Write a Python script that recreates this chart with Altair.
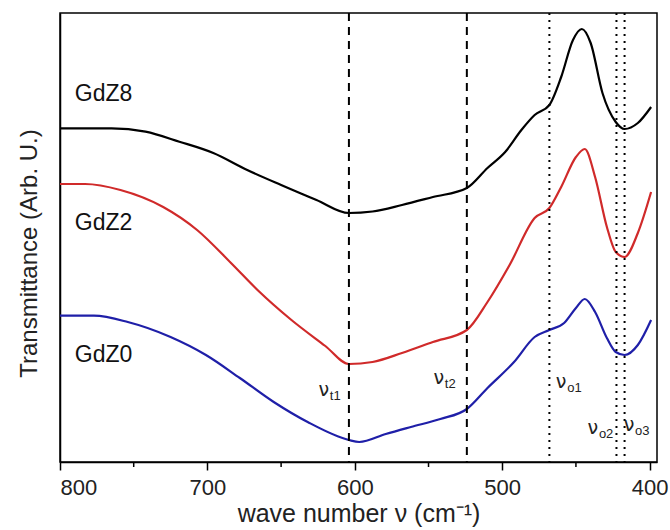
import altair as alt
import pandas as pd

# ---- data ----
wn_gdz8 = [800, 765, 742, 719, 696, 673, 650, 626, 604, 588, 568, 547, 524, 510, 498, 487, 478, 468, 460, 452, 446, 440, 432, 423, 417, 408, 399]
t_gdz8 = [333.7, 333.7, 330.3, 320.3, 309, 292, 277, 262, 249, 250.5, 257, 265, 274, 294, 310, 332, 347, 357, 385, 422, 433, 419, 369, 340, 333, 339, 355]

wn_gdz2 = [800, 783, 759, 730, 707, 684, 666, 643, 620, 604, 588, 568, 547, 524, 510, 495, 478, 468, 460, 450, 444, 437, 429, 423, 417, 408, 399]
t_gdz2 = [278, 278, 272, 255, 232, 199, 172, 142, 116, 98, 100, 109, 120, 132, 160, 197, 244, 254, 275, 305, 313, 285, 235, 210, 205, 229, 270]

wn_gdz0 = [800, 777, 754, 725, 701, 678, 655, 632, 604, 597, 579, 562, 542, 524, 510, 492, 478, 468, 458, 450, 444, 437, 429, 423, 417, 408, 399]
t_gdz0 = [146.3, 146.3, 140, 125, 107, 84, 60, 40, 22, 20, 28, 35, 43, 53, 74, 100, 125, 132, 139, 154, 163, 150, 124, 110, 107, 117, 142]

series_names = ["GdZ8", "GdZ2", "GdZ0"]
series_colors = ["#000000", "#d02a2a", "#1f1fa8"]

label_x = [790, 790, 790]
label_y = [368, 239, 107]

dashed_lines = [604, 524]
dotted_lines = [468, 422.5, 417]

nu_x = [621, 543, 460, 438.5, 414]
nu_y = [72, 84, 80, 34, 37]
nu_sub = ["t1", "t2", "o1", "o2", "o3"]

major_ticks = [800, 700, 600, 500, 400]
minor_ticks = [750, 650, 550, 450]

# ---- tables ----
rows = []
for name, xs, ys in [("GdZ8", wn_gdz8, t_gdz8), ("GdZ2", wn_gdz2, t_gdz2), ("GdZ0", wn_gdz0, t_gdz0)]:
    for a, b in zip(xs, ys):
        rows.append({"wn": a, "t": b, "sample": name})
curves = pd.DataFrame(rows)
labels = pd.DataFrame({"wn": label_x, "t": label_y, "sample": series_names})
dashed = pd.DataFrame({"wn": dashed_lines})
dotted = pd.DataFrame({"wn": dotted_lines})
nus = pd.DataFrame({"wn": nu_x, "t": nu_y, "sub": nu_sub, "nu": ["ν"] * 5})
minor = pd.DataFrame({"wn": minor_ticks})

FONT = "Liberation Sans"
PLOT_W, PLOT_H = 597, 449
xscale = alt.Scale(domain=[800, 395], nice=False, zero=False)
yscale = alt.Scale(domain=[0, 449], nice=False, zero=False)

xaxis = alt.Axis(values=major_ticks, title="wave number ν (cm⁻¹)", labelFontSize=22,
                 titleFontSize=25, titleFontWeight="normal", tickSize=8, tickWidth=1.5,
                 tickColor="black", domainColor="black", domainWidth=1.5, labelColor="#222",
                 titleColor="#222", labelPadding=7, titlePadding=3, grid=False,
                 labelFont=FONT, titleFont=FONT, format="d")
yaxis = alt.Axis(labels=False, ticks=False, title="Transmittance (Arb. U.)", titleFontSize=24,
                 titleFontWeight="normal", titleColor="#222", titlePadding=19, grid=False,
                 domainColor="black", domainWidth=1.5, titleFont=FONT, titleY=240)

X = alt.X("wn:Q", scale=xscale, axis=xaxis)
Y = alt.Y("t:Q", scale=yscale, axis=yaxis)

lines = alt.Chart(curves).mark_line(strokeWidth=2.2, interpolate="monotone").encode(
    x=X, y=Y,
    color=alt.Color("sample:N", scale=alt.Scale(domain=series_names, range=series_colors), legend=None),
    detail="sample:N",
)

dash_rules = alt.Chart(dashed).mark_rule(color="black", strokeWidth=2, strokeDash=[8, 6]).encode(x=X)
dot_rules = alt.Chart(dotted).mark_rule(color="black", strokeWidth=2, strokeDash=[2, 5]).encode(x=X)

name_text = alt.Chart(labels).mark_text(align="left", baseline="middle", fontSize=23, font=FONT, color="#111").encode(
    x=X, y=Y, text="sample:N"
)
nu_text = alt.Chart(nus).mark_text(align="center", baseline="middle", fontSize=19, font="DejaVu Sans", color="#222").encode(
    x=X, y=Y, text="nu:N"
)
sub_text = alt.Chart(nus).mark_text(align="left", baseline="middle", fontSize=13, font=FONT, color="#222", dx=6, dy=6).encode(
    x=X, y=Y, text="sub:N"
)
# minor ticks just below the x axis line (pixel length is a style)
minor_rules = alt.Chart(minor).mark_rule(color="black", strokeWidth=1.5, clip=False).encode(
    x=X, y=alt.value(PLOT_H), y2=alt.value(PLOT_H + 5)
)

chart = alt.layer(lines, dash_rules, dot_rules, name_text, nu_text, sub_text, minor_rules).properties(
    width=PLOT_W, height=PLOT_H,
    autosize=alt.AutoSizeParams(type="none"),
    padding={"left": 60, "top": 13, "right": 13, "bottom": 68},
    background="white",
).configure_view(stroke="black", strokeWidth=1.5)

chart.save("out.html", embed_options={"renderer": "svg", "actions": False})
